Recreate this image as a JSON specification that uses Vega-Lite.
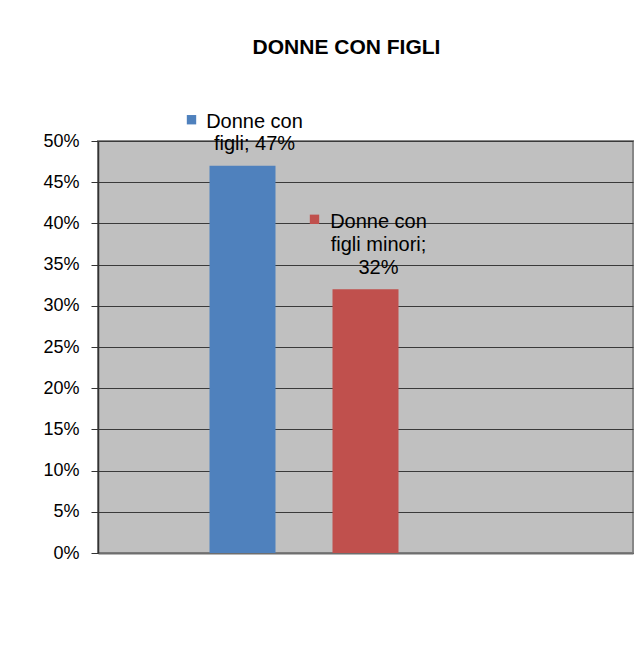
{
  "$schema": "https://vega.github.io/schema/vega-lite/v6.json",
  "width": 535,
  "height": 412,
  "autosize": {"type": "none"},
  "padding": {"left": 98, "top": 141, "right": 9, "bottom": 93},
  "background": "white",
  "title": {
    "text": "DONNE CON FIGLI",
    "font": "Liberation Sans",
    "fontSize": 21,
    "fontWeight": "bold",
    "color": "#000000",
    "anchor": "middle",
    "dx": -19,
    "offset": 54
  },
  "data": {
    "values": [
      {"serie": "Donne con figli", "valore": 0.47, "etichetta": "Donne con\nfigli; 47%"},
      {"serie": "Donne con figli minori", "valore": 0.32, "etichetta": "Donne con\nfigli minori;\n32%"}
    ]
  },
  "encoding": {
    "x": {
      "field": "serie",
      "type": "nominal",
      "sort": null,
      "scale": {
        "domain": ["Donne con figli", "Donne con figli minori", "Serie 3"],
        "paddingInner": 0.4634,
        "paddingOuter": 0.9065
      },
      "axis": {
        "labels": false,
        "ticks": false,
        "title": null,
        "domainColor": "#6e6e6e",
        "domainWidth": 2
      }
    },
    "y": {
      "field": "valore",
      "type": "quantitative",
      "scale": {"domain": [0, 0.5], "nice": false, "zero": true},
      "axis": {
        "title": null,
        "format": ".0%",
        "values": [0, 0.05, 0.1, 0.15, 0.2, 0.25, 0.3, 0.35, 0.4, 0.45, 0.5],
        "labelFont": "Liberation Sans",
        "labelFontSize": 18,
        "labelColor": "#000000",
        "labelPadding": 12,
        "tickSize": 7,
        "tickColor": "#333333",
        "domainColor": "#333333",
        "domainWidth": 1.5,
        "gridColor": "#3a3a3a",
        "gridWidth": 1,
        "gridOpacity": 1
      }
    },
    "color": {
      "field": "serie",
      "type": "nominal",
      "scale": {
        "domain": ["Donne con figli", "Donne con figli minori"],
        "range": ["#4F81BD", "#C0504D"]
      },
      "legend": null
    }
  },
  "layer": [
    {
      "mark": {"type": "bar"}
    },
    {
      "transform": [{"filter": "datum.serie === 'Donne con figli'"}],
      "mark": {
        "type": "text",
        "font": "Liberation Sans",
        "fontSize": 20,
        "align": "center",
        "baseline": "alphabetic",
        "lineBreak": "\n",
        "lineHeight": 22,
        "dx": 12,
        "dy": -38,
        "color": "#000000"
      },
      "encoding": {
        "text": {"field": "etichetta", "type": "nominal"},
        "color": {"value": "#000000"}
      }
    },
    {
      "transform": [{"filter": "datum.serie === 'Donne con figli minori'"}],
      "mark": {
        "type": "text",
        "font": "Liberation Sans",
        "fontSize": 20,
        "align": "center",
        "baseline": "alphabetic",
        "lineBreak": "\n",
        "lineHeight": 23,
        "dx": 13,
        "dy": -61,
        "color": "#000000"
      },
      "encoding": {
        "text": {"field": "etichetta", "type": "nominal"},
        "color": {"value": "#000000"}
      }
    },
    {
      "transform": [{"filter": "datum.serie === 'Donne con figli'"}],
      "mark": {"type": "point", "shape": "square", "filled": true, "opacity": 1, "size": 88},
      "encoding": {
        "xOffset": {"value": -18},
        "yOffset": {"value": -46}
      }
    },
    {
      "transform": [{"filter": "datum.serie === 'Donne con figli minori'"}],
      "mark": {"type": "point", "shape": "square", "filled": true, "opacity": 1, "size": 88},
      "encoding": {
        "xOffset": {"value": -18},
        "yOffset": {"value": -70}
      }
    }
  ],
  "config": {
    "view": {"fill": "#C0C0C0", "stroke": "#878787", "strokeWidth": 2}
  }
}
